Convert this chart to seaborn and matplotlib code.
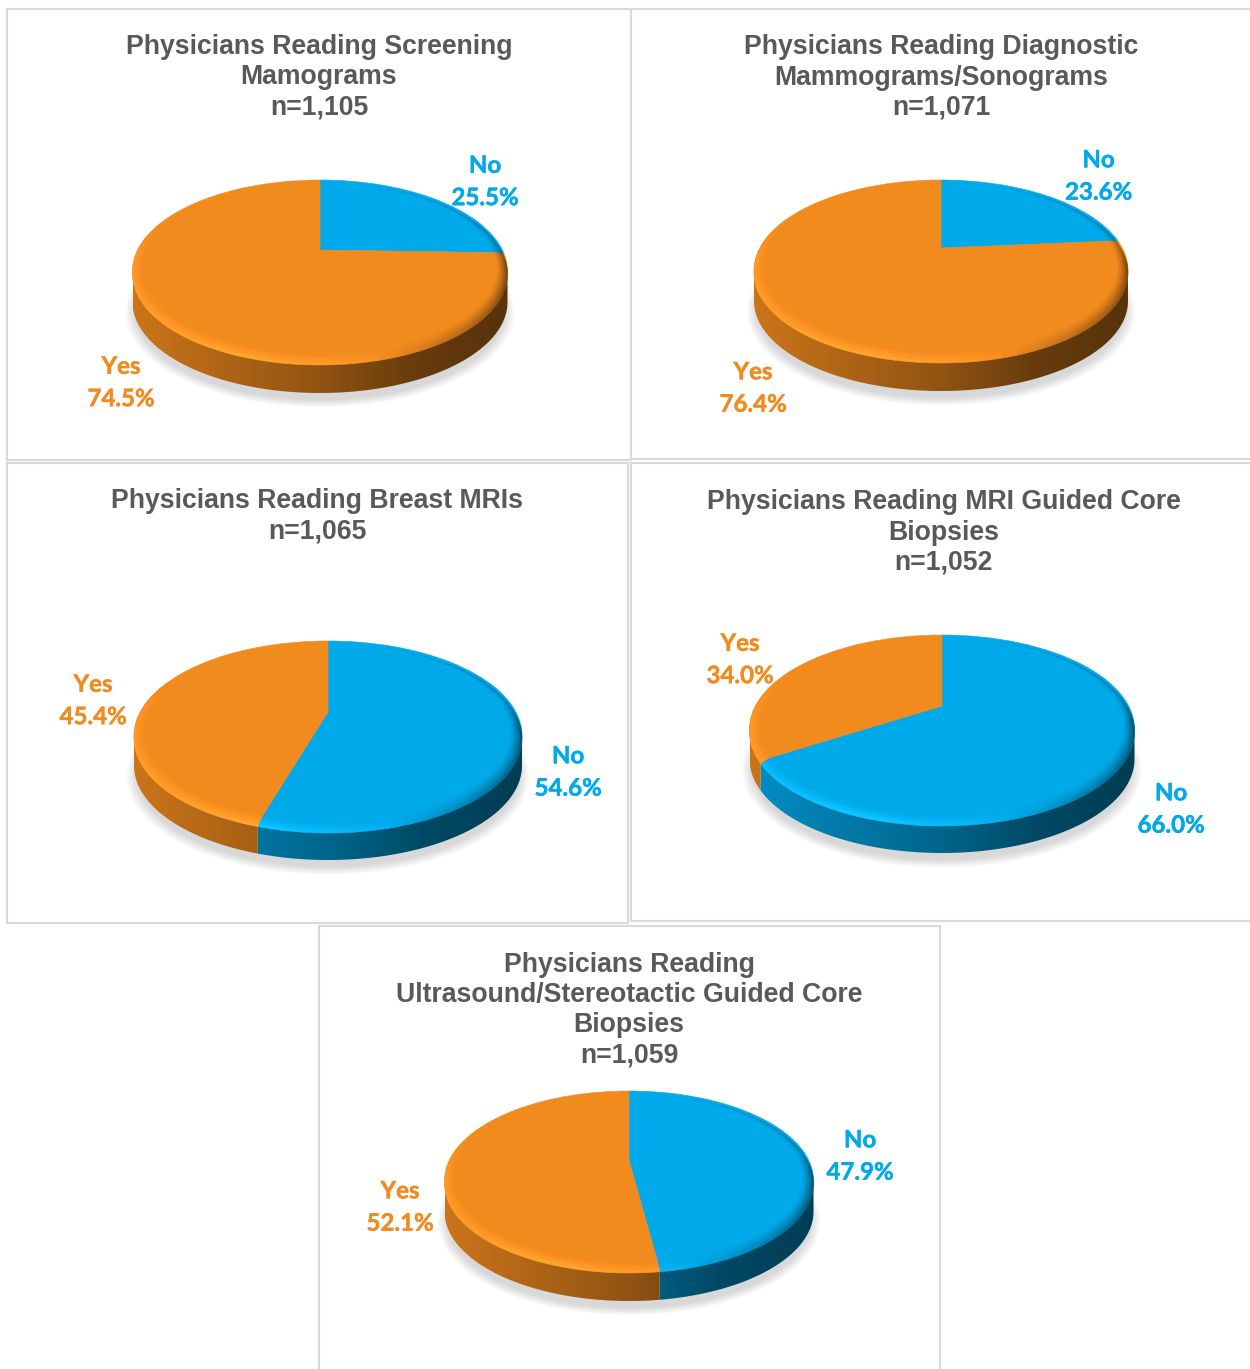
import numpy as np
import matplotlib
matplotlib.use("Agg")
import matplotlib.pyplot as plt
import matplotlib.patheffects as pe
import seaborn as sns
from matplotlib.collections import PolyCollection
from matplotlib.patches import Polygon
from matplotlib.transforms import Transform
from matplotlib.colors import to_rgb

# ---- data ----
categories = ["No", "Yes"]
titles = [
    "Physicians Reading Screening\nMamograms\nn=1,105",
    "Physicians Reading Diagnostic\nMammograms/Sonograms\nn=1,071",
    "Physicians Reading Breast MRIs\nn=1,065",
    "Physicians Reading MRI Guided Core\nBiopsies\nn=1,052",
    "Physicians Reading\nUltrasound/Stereotactic Guided Core\nBiopsies\nn=1,059",
]
no_values = [25.5, 23.6, 54.6, 66.0, 47.9]
yes_values = [74.5, 76.4, 45.4, 34.0, 52.1]

# ---- layout, in figure pixels ----
W, H = 1250, 1369
panels = [(7, 9, 631, 460), (631, 9, 1252, 459), (7, 463, 628, 923),
          (631, 463, 1252, 921), (319, 926, 940, 1375)]
# centre x, centre y, half width, reach up, reach down, wall depth
discs = [(320, 250, 187.5, 70, 112, 31), (941, 248, 187, 68, 112, 31),
         (328, 712, 194, 71, 118, 30), (942, 706, 192.5, 71, 117, 30),
         (629, 1160, 184.5, 69, 110, 31)]
title_pos = [(319, 77.5), (941, 77.5), (317, 516), (944, 532.5), (629, 1010)]
no_pos = [(485, 181.5), (1098.5, 176), (568, 772), (1171, 809), (860, 1156)]
yes_pos = [(121, 382.5), (753, 388), (93, 700.5), (740, 659.5), (400, 1207)]

sns.set_theme(style="white")
orange, blue = "#F28B1E", "#00A9E9"
palette = sns.color_palette([blue, orange])
GREY = "#595959"
BORDER = "#D9D9D9"
TITLE_FONT = ["Liberation Sans", "DejaVu Sans"]
LABEL_FONT = ["Lato", "DejaVu Sans"]


class DiscProjection(Transform):
    input_dims = output_dims = 2
    is_separable = False
    has_inverse = False

    def __init__(self, cx, cy, half, up, down):
        super().__init__()
        self.cx, self.cy = cx, cy
        self.k = (1 - up / down) / (1 + up / down)
        self.a = up * (1 + self.k)
        self.r = half * np.sqrt(1 - self.k ** 2)

    def transform_non_affine(self, values):
        values = np.asarray(values, float)
        w = 1 + self.k * values[:, 1]
        return np.column_stack((self.cx + self.r * values[:, 0] / w,
                                self.cy - self.a * values[:, 1] / w))


def polar(proj, theta, radius, z=0.0):
    t = np.radians(theta)
    p = proj.transform_non_affine(np.column_stack((radius * np.cos(t), radius * np.sin(t))))
    p[:, 1] += z
    return p


def lift(rgb, f):
    c = np.array(rgb)
    if f <= 1:
        return tuple(c * f)
    return tuple(np.clip(c * f + (f - 1) * 0.55, 0, 1))


def draw_panel(fig, rect, disc, title, tpos, values, npos, ypos):
    x0, y0, x1, y1 = rect
    ax = fig.add_axes([x0 / W, 1 - y1 / H, (x1 - x0) / W, (y1 - y0) / H])
    cx, cy, half, up, down, depth = disc
    proj = DiscProjection(cx, cy, half, up, down)

    wedges, _ = ax.pie(values, startangle=90, counterclock=False, colors=palette,
                       radius=1, wedgeprops=dict(linewidth=0.4))
    for w, c in zip(wedges, palette):
        w.set_transform(proj + ax.transData)
        w.set_edgecolor(c)
        w.set_zorder(3)

    # soft shadow under the disc
    full = np.arange(0, 361, 3.0)
    for r in np.linspace(1.035, 0.985, 10):
        ax.fill(*polar(proj, full, r, depth + 9).T, color="#7F7F7F", alpha=0.03, lw=0, zorder=1)

    ramp = np.interp(np.linspace(-1, 1, 400), [-1, -0.5, 0, 0.5, 1],
                     [0.84, 0.72, 0.60, 0.43, 0.36])
    for w, c in zip(wedges, palette):
        rgb = to_rgb(c)
        a = np.arange(w.theta1, w.theta2 + 0.01, 1.0)
        if a[-1] < w.theta2:
            a = np.append(a, w.theta2)
        # side wall: a horizontal gradient clipped to the front part of the wedge's rim
        front = a[np.sin(np.radians(a)) <= -proj.k]
        if len(front) > 1:
            top, bot = polar(proj, front, 1.0, 2), polar(proj, front, 1.0, depth)
            wall = Polygon(np.vstack((top, bot[::-1])), closed=True, transform=ax.transData,
                           facecolor="none", edgecolor="none")
            ax.add_patch(wall)
            img = ramp[None, :, None] * np.array(rgb)[None, None, :]
            im = ax.imshow(img, extent=(cx - half, cx + half, cy + down + depth, cy - up),
                           aspect="auto", zorder=2, interpolation="bilinear")
            im.set_clip_path(wall)
        # bevel ring between the face and the wall
        quads, cols = [], []
        steps = np.linspace(0, 1, 9)
        for j in range(len(steps) - 1):
            ri, ro = 0.945 + 0.055 * steps[j], 0.945 + 0.055 * steps[j + 1]
            zi, zo = 3.0 * steps[j] ** 2, 3.0 * steps[j + 1] ** 2
            inner, outer = polar(proj, a, ri, zi), polar(proj, a, ro, zo)
            for i in range(len(a) - 1):
                quads.append([inner[i], inner[i + 1], outer[i + 1], outer[i]])
                mid = np.radians((a[i] + a[i + 1]) / 2)
                u, v = np.cos(mid), np.sin(mid)
                f = np.interp(u, [-1, -0.3, 0.25, 0.7, 1], [1.05, 1.10, 1.02, 0.72, 0.50])
                weight = max(np.clip((0.35 - v) / 0.5, 0, 1), 0.5 * np.clip(u, 0, 1))
                cols.append(lift(rgb, 1 + (f - 1) * weight * steps[j + 1] ** 1.5))
        ax.add_collection(PolyCollection(quads, facecolors=cols, edgecolors=cols,
                                         linewidths=0.4, zorder=4), autolim=False)

    ax.set_aspect("auto")
    ax.set_xlim(x0, x1)
    ax.set_ylim(y1, y0)
    ax.set_frame_on(True)
    ax.set_xticks([])
    ax.set_yticks([])
    for s in ax.spines.values():
        s.set_color(BORDER)
        s.set_linewidth(1.5)

    ax.text(tpos[0], tpos[1], title, ha="center", va="center", family=TITLE_FONT,
            fontweight="bold", fontsize=19.2, color=GREY, linespacing=1.21,
            zorder=6, clip_on=False)
    for cat, val, pos, c in zip(categories, values, (npos, ypos), palette):
        ax.text(pos[0], pos[1], f"{cat}\n{val:.1f}%", ha="center", va="center",
                family=LABEL_FONT, fontweight="bold", fontsize=17.3, color=c,
                linespacing=1.49, zorder=6, clip_on=False,
                path_effects=[pe.withStroke(linewidth=0.3, foreground=c)])


fig = plt.figure(figsize=(W / 100, H / 100), dpi=100, facecolor="white")
for i in range(len(titles)):
    draw_panel(fig, panels[i], discs[i], titles[i], title_pos[i],
               [no_values[i], yes_values[i]], no_pos[i], yes_pos[i])
fig.savefig("out.png", dpi=100, facecolor="white")
